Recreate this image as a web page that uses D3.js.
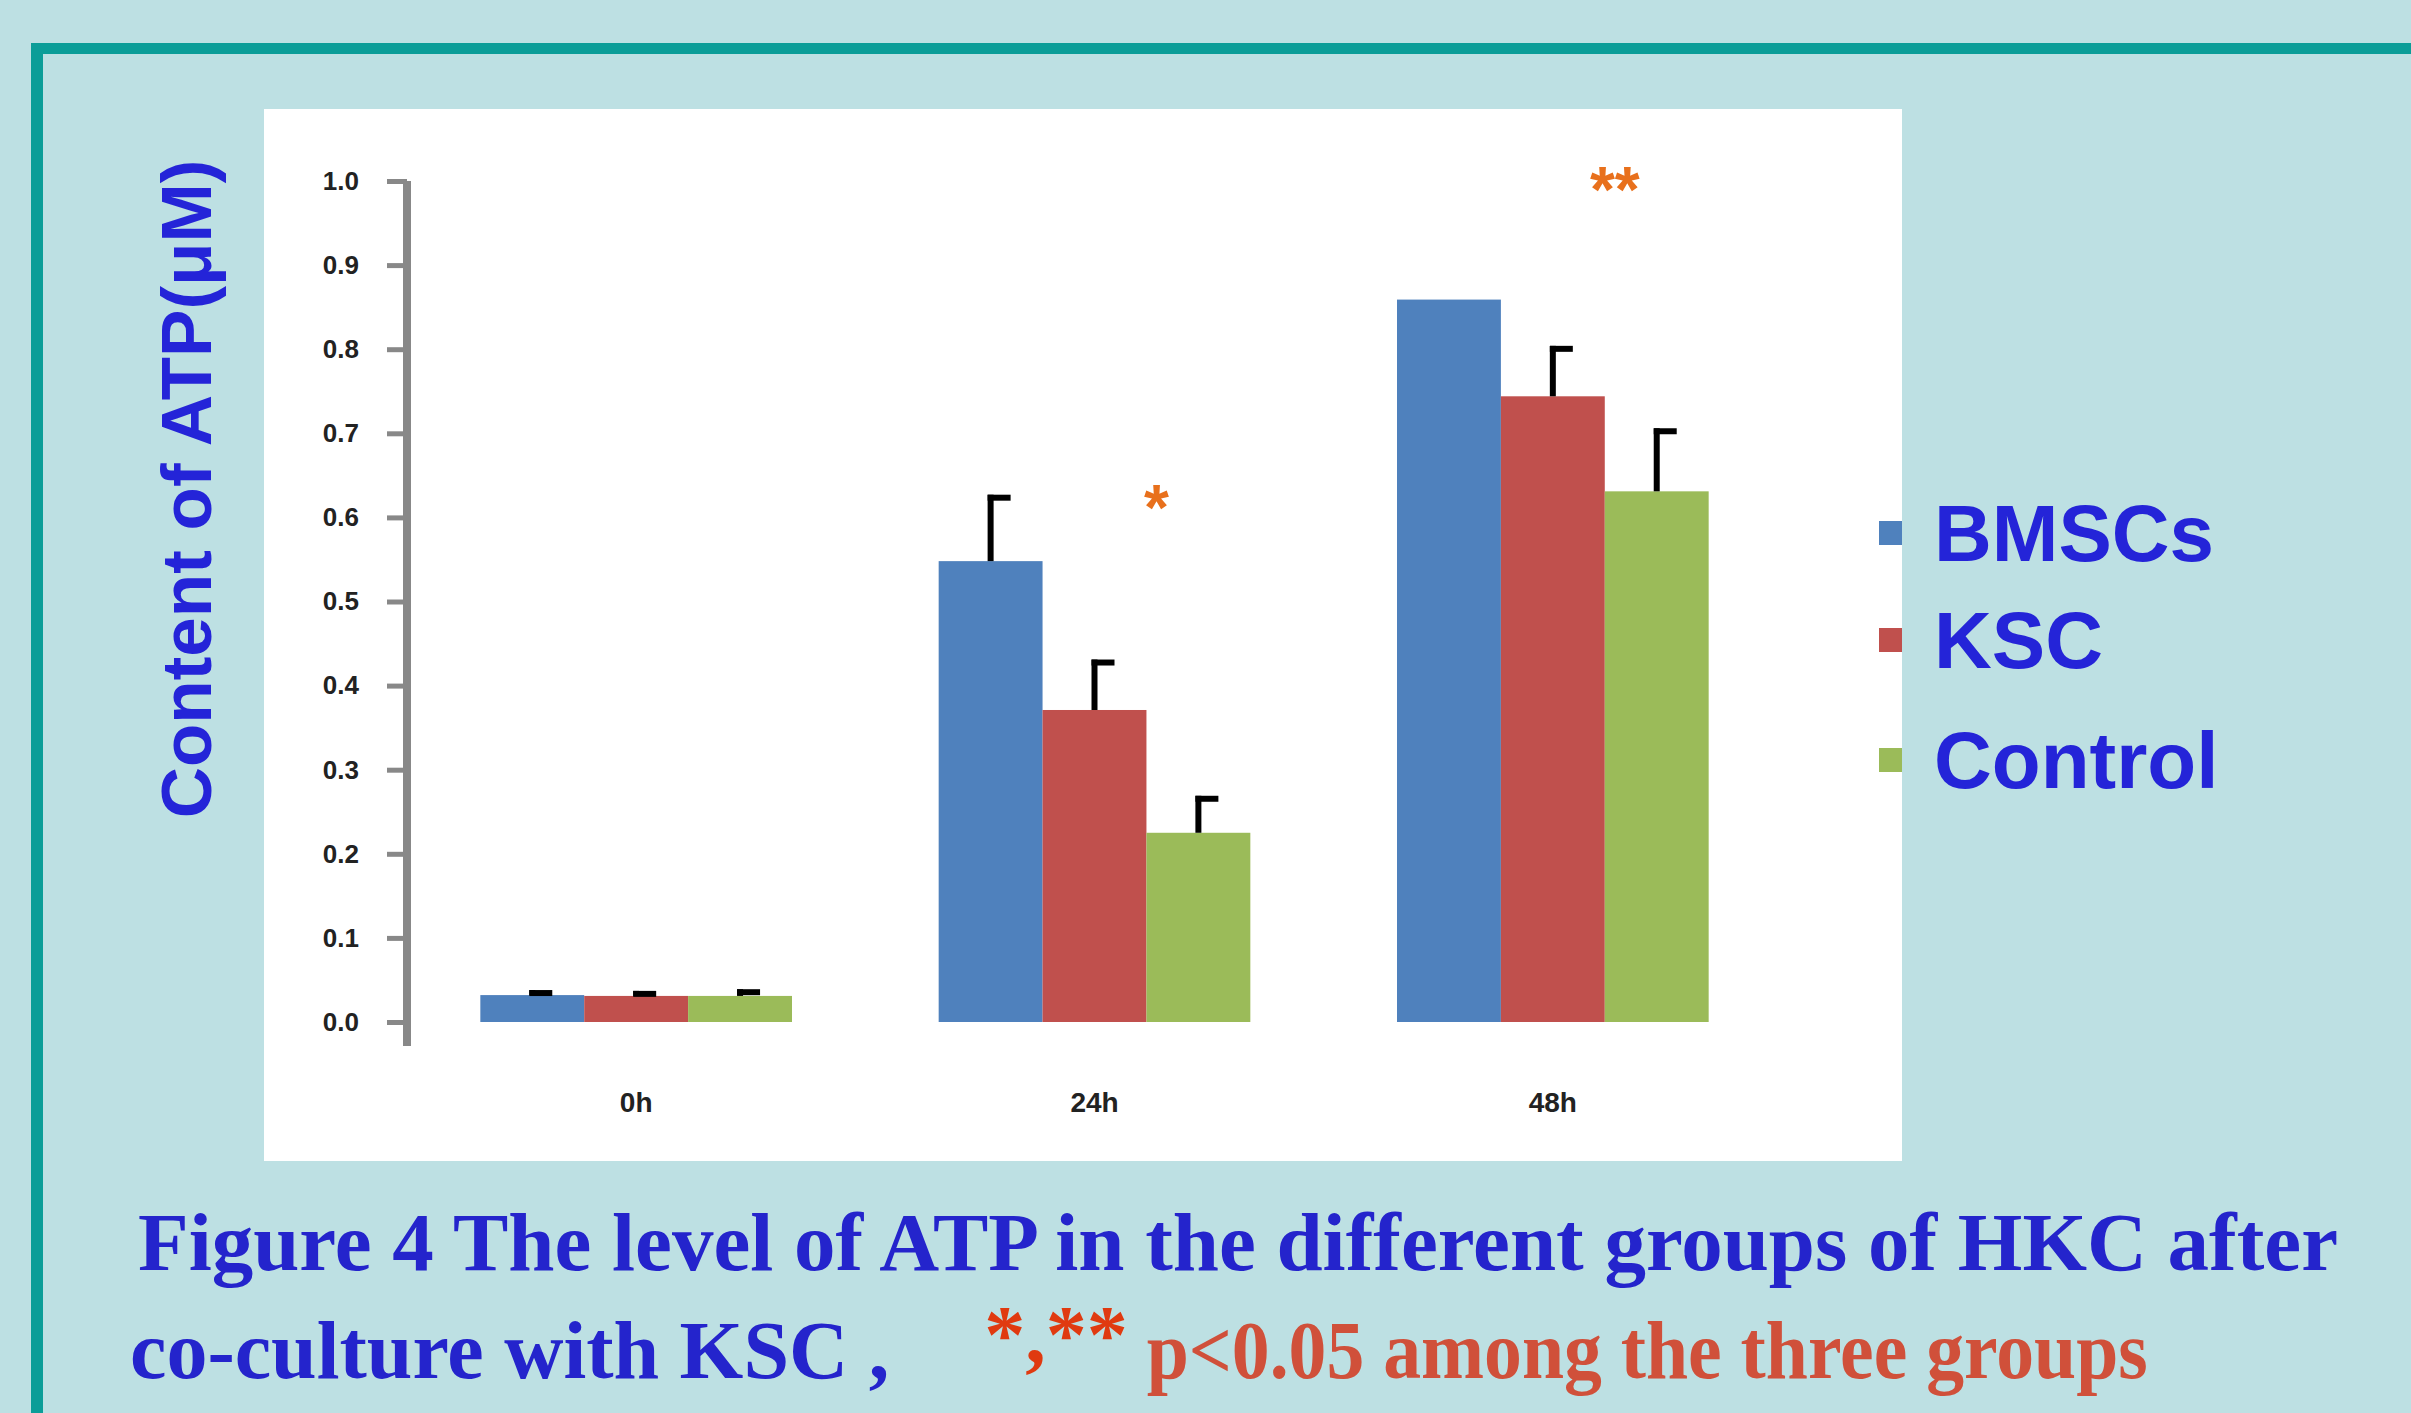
<!DOCTYPE html>
<html>
<head>
<meta charset="utf-8">
<script src="https://cdn.jsdelivr.net/npm/d3@7"></script>
<style>
  body { margin: 0; background: #bde0e3; }
  svg { display: block; }
</style>
</head>
<body>
<svg width="2411" height="1413"></svg>
<script>
// ATP level in the different groups of HKC after co-culture with KSC
const groups = ["0h", "24h", "48h"];
const seriesNames = ["BMSCs", "KSC", "Control"];
const bmscs = [0.032, 0.548, 0.859];
const ksc = [0.031, 0.371, 0.744];
const control = [0.031, 0.225, 0.631];
const bmscsErr = [0.006, 0.079, 0];
const kscErr = [0.006, 0.06, 0.06];
const controlErr = [0.008, 0.044, 0.075];
const yTicks = [0, 0.1, 0.2, 0.3, 0.4, 0.5, 0.6, 0.7, 0.8, 0.9, 1.0];
const sigMarks = ["", "*", "**"];

const colors = ["#4f81bd", "#c0504d", "#9bbb59"];
const series = [bmscs, ksc, control];
const errs = [bmscsErr, kscErr, controlErr];

const svg = d3.select("svg");

// background frame
svg.append("rect").attr("x", 0).attr("y", 0).attr("width", 2411).attr("height", 1413).attr("fill", "#bde0e3");
svg.append("rect").attr("x", 31).attr("y", 43).attr("width", 2380).attr("height", 11).attr("fill", "#0b9d98");
svg.append("rect").attr("x", 31).attr("y", 43).attr("width", 12).attr("height", 1370).attr("fill", "#0b9d98");

// white plot panel
svg.append("rect").attr("x", 264).attr("y", 109).attr("width", 1638).attr("height", 1052).attr("fill", "#ffffff");

//scales
const x0 = d3.scaleBand().domain(groups).range([407, 1782]).paddingInner(0.32).paddingOuter(0.16);
const x1 = d3.scaleBand().domain(seriesNames).range([0, x0.bandwidth()]);
const y = d3.scaleLinear().domain([0, 1.0]).range([1022, 181]);

// y axis
const yAxis = d3.axisLeft(y).tickValues(yTicks).tickFormat(d3.format(".1f")).tickSize(20).tickPadding(28);
const ya = svg.append("g").attr("transform", "translate(407,0)").call(yAxis);
ya.select(".domain").remove();
ya.selectAll(".tick line").attr("stroke", "#888").attr("stroke-width", 5);
ya.selectAll(".tick text").style("font-family", "Liberation Sans, sans-serif").style("font-size", "26px").style("font-weight", "bold").attr("fill", "#222");
svg.append("line").attr("x1", 407).attr("x2", 407).attr("y1", 181).attr("y2", 1046).attr("stroke", "#888").attr("stroke-width", 8);

// x labels
const xAxis = d3.axisBottom(x0).tickSize(0).tickPadding(70);
const xa = svg.append("g").attr("transform", "translate(0,1022)").call(xAxis);
xa.select(".domain").remove();
xa.selectAll(".tick text").style("font-family", "Liberation Sans, sans-serif").style("font-size", "28px").style("font-weight", "bold").attr("fill", "#222");

// bars
const grp = svg.selectAll(".grp").data(groups).enter().append("g").attr("transform", (d) => `translate(${x0(d)},0)`);
seriesNames.forEach((s, si) => {
  grp.append("rect")
    .attr("x", x1(s))
    .attr("width", x1.bandwidth())
    .attr("y", (d, i) => y(series[si][i]))
    .attr("height", (d, i) => y(0) - y(series[si][i]))
    .attr("fill", colors[si]);
  // error bars (upper half only)
  grp.filter((d, i) => errs[si][i] > 0).each(function (d) {
    const i = groups.indexOf(d);
    const cx = x1(s) + x1.bandwidth() / 2;
    const top = y(series[si][i] + errs[si][i]);
    d3.select(this).append("line").attr("x1", cx).attr("x2", cx).attr("y1", y(series[si][i])).attr("y2", top).attr("stroke", "#000").attr("stroke-width", 6);
    d3.select(this).append("line").attr("x1", cx - 3).attr("x2", cx + 20).attr("y1", top + 3).attr("y2", top + 3).attr("stroke", "#000").attr("stroke-width", 6);
  });
});

// significance marks
svg.selectAll(".sig").data(groups).enter().append("text")
  .attr("x", (d) => x0(d) + x0.bandwidth() / 2 + 62)
  .attr("y", (d, i) => (i === 1 ? 530 : 212))
  .attr("text-anchor", "middle")
  .style("font-family", "Liberation Sans, sans-serif")
  .style("font-size", "64px")
  .style("font-weight", "bold")
  .attr("fill", "#e8701c")
  .text((d, i) => sigMarks[i]);

// y label
svg.append("text")
  .attr("transform", "translate(211,489) rotate(-90)")
  .attr("text-anchor", "middle")
  .style("font-family", "Liberation Sans, sans-serif")
  .style("font-size", "71px")
  .style("font-weight", "bold")
  .attr("fill", "#2424d8")
  .text("Content of ATP(μM)");

// legend
const leg = svg.selectAll(".leg").data(seriesNames).enter().append("g")
  .attr("transform", (d, i) => `translate(1879,${[533, 640, 760][i]})`);
leg.append("rect").attr("x", 0).attr("y", -12).attr("width", 23).attr("height", 24).attr("fill", (d, i) => colors[i]);
leg.append("text")
  .attr("x", 55).attr("y", 28)
  .style("font-family", "Liberation Sans, sans-serif")
  .style("font-size", "80px")
  .style("font-weight", "bold")
  .attr("fill", "#2424d8")
  .text((d) => d);

// caption
const cap = svg.append("g").style("font-family", "Liberation Serif, serif").style("font-weight", "bold").style("font-size", "82px");
cap.append("text").attr("x", 138).attr("y", 1270).attr("fill", "#2424cc").attr("textLength", 2200).attr("lengthAdjust", "spacingAndGlyphs").text("Figure 4  The level of ATP in the different groups of HKC after");
const l2 = cap.append("text").attr("x", 130).attr("y", 1378);
l2.append("tspan").attr("fill", "#2424cc").text("co-culture with KSC ,");
l2.append("tspan").attr("fill", "#e03a10").attr("dx", 95).attr("dy", -16).text("*,**");
l2.append("tspan").attr("fill", "#d0503a").attr("dy", 16).attr("textLength", 1020).attr("lengthAdjust", "spacingAndGlyphs").text(" p<0.05 among the three groups");
</script>
</body>
</html>
